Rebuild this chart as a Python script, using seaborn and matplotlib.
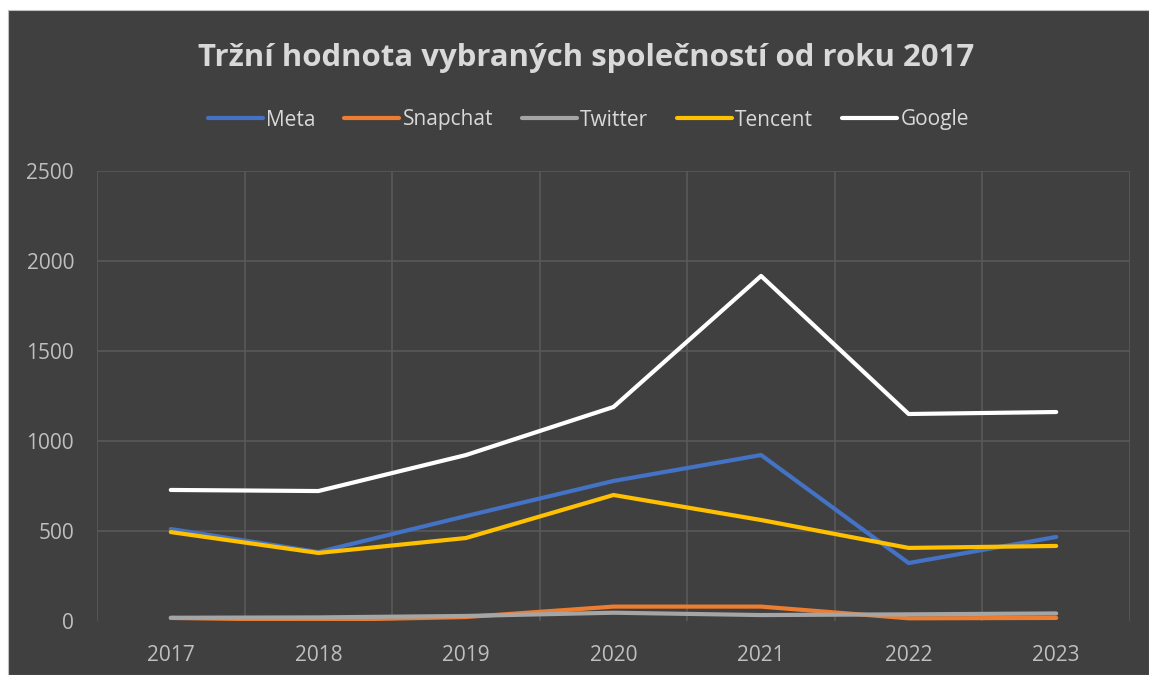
import pandas as pd
import matplotlib.pyplot as plt
import seaborn as sns
from matplotlib.patches import Rectangle

years = ['2017', '2018', '2019', '2020', '2021', '2022', '2023']
meta = [511, 383, 583, 778, 922, 322, 467]
snapchat = [17, 5, 22, 80, 80, 15, 17]
twitter = [18, 20, 28, 46, 33, 37, 42]
tencent = [494, 378, 461, 700, 561, 406, 417]
google = [728, 722, 922, 1189, 1917, 1150, 1161]

companies = ['Meta', 'Snapchat', 'Twitter', 'Tencent', 'Google']
colors = ['#4472C4', '#ED7D31', '#A5A5A5', '#FFC000', '#FFFFFF']

df = pd.DataFrame({'Meta': meta, 'Snapchat': snapchat, 'Twitter': twitter,
                   'Tencent': tencent, 'Google': google})
df['x'] = range(len(years))
long = df.melt(id_vars='x', var_name='firma', value_name='hodnota')

sns.set_style('dark')
plt.rcParams['font.family'] = ['Open Sans', 'DejaVu Sans']

fig = plt.figure(figsize=(11.49, 6.75), dpi=100, facecolor='white')
# dark chart area, small white margin top/left like the screenshot
fig.patches.append(Rectangle((8 / 1149, 0), 1 - 8 / 1149, 1 - 10 / 675,
                             transform=fig.transFigure, facecolor='#404040',
                             edgecolor='#bfbfbf', linewidth=0.8, zorder=-10))

ax = fig.add_axes([97 / 1149, 54 / 675, (1130 - 97) / 1149, 450 / 675])
ax.set_facecolor('#404040')

sns.lineplot(data=long, x='x', y='hodnota', hue='firma', hue_order=companies,
             palette=colors, linewidth=3, ax=ax, legend=False)

ax.set_xlim(-0.5, 6.5)
ax.set_ylim(0, 2500)
ax.set_yticks([0, 500, 1000, 1500, 2000, 2500])
ax.set_xticks(range(len(years)))
ax.set_xticklabels(years)
ax.set_xlabel('')
ax.set_ylabel('')
ax.tick_params(colors='#bfbfbf', labelsize=15, length=0, pad=17)
ax.tick_params(axis='y', pad=16.5)

# gridlines: horizontal at ticks, vertical between categories
for v in [500, 1000, 1500, 2000, 2500]:
    ax.axhline(v, color='#595959', linewidth=1.2, zorder=0)
for xv in [i - 0.5 for i in range(len(years) + 1)]:
    ax.axvline(xv, color='#595959', linewidth=1.2, zorder=0)
ax.grid(False)
for s in ax.spines.values():
    s.set_visible(False)

handles = [plt.Line2D([], [], color=c, linewidth=3) for c in colors]
fig.legend(handles, companies, loc='center', bbox_to_anchor=(0.512, 1 - 120 / 675),
           ncol=5, frameon=False, fontsize=15, labelcolor='#d9d9d9',
           handlelength=2.65, handletextpad=0.15, columnspacing=1.38)

fig.text(0.5105, 1 - 58 / 675, 'Tržní hodnota vybraných společností od roku 2017',
         ha='center', va='center', fontsize=22.4, fontweight='bold', color='#d9d9d9')

fig.savefig('out.png', dpi=100, facecolor=fig.get_facecolor())
